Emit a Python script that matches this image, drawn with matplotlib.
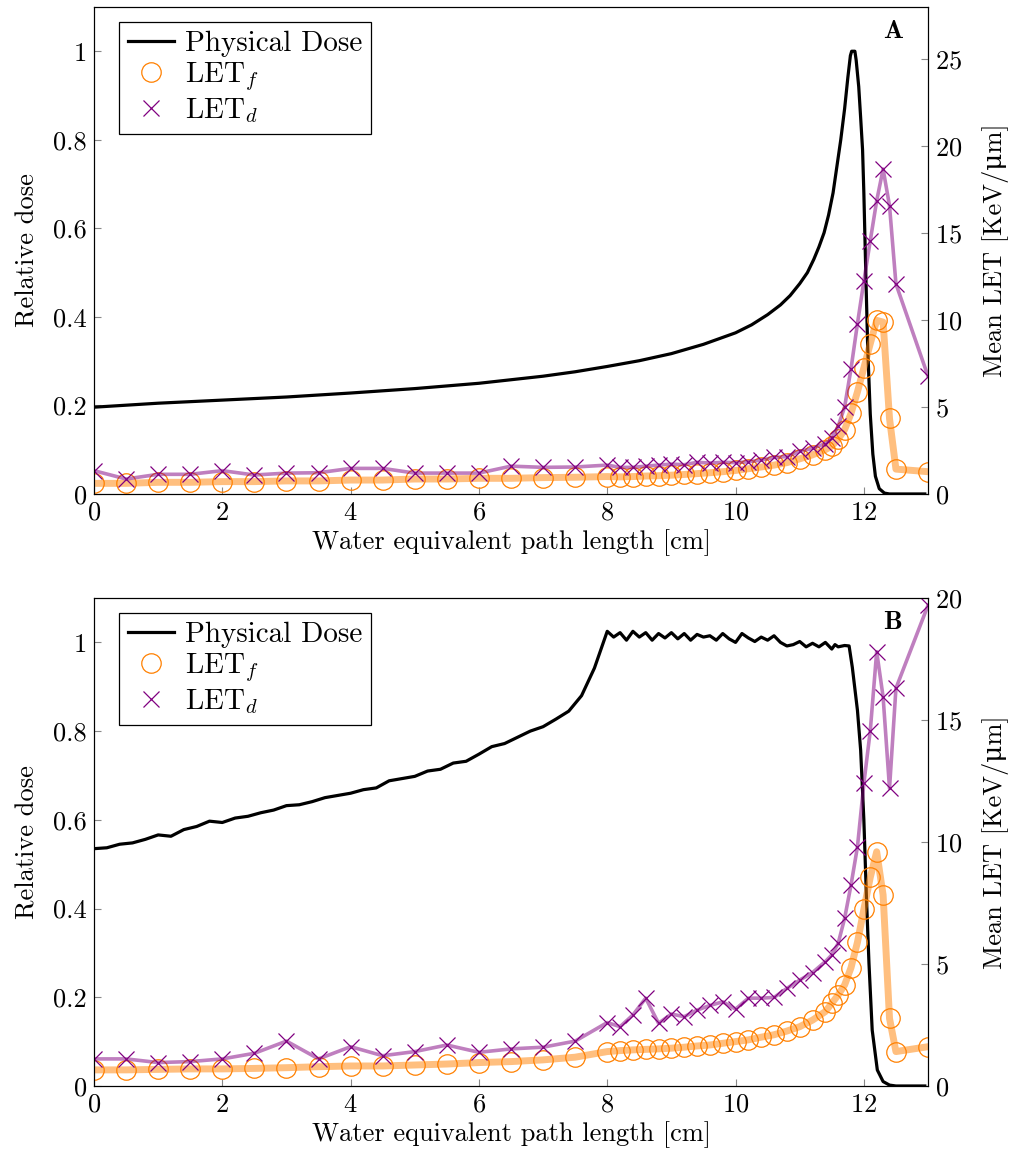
import matplotlib
matplotlib.use("Agg")
import matplotlib.pyplot as plt
from matplotlib.lines import Line2D

plt.rcParams['font.family'] = ['cmr10', 'DejaVu Serif']
plt.rcParams['mathtext.fontset'] = 'cm'
plt.rcParams['axes.formatter.use_mathtext'] = True
plt.rcParams['font.size'] = 19

# LET sample positions (cm)
let_x = [0, 0.5, 1, 1.5, 2, 2.5, 3, 3.5, 4, 4.5, 5, 5.5, 6, 6.5, 7, 7.5, 8.0,
         8.2, 8.4, 8.6, 8.8, 9.0, 9.2, 9.4, 9.6, 9.8, 10.0, 10.2, 10.4, 10.6, 10.8, 11.0, 11.2, 11.4,
         11.5, 11.6, 11.7, 11.8, 11.9, 12.0, 12.1, 12.2, 12.3, 12.4, 12.5, 13.0]

# panel A: Bragg peak
dose_a_x = [0, 1, 2, 3, 4, 5, 6, 6.5, 7, 7.5, 8, 8.5, 9, 9.5, 10, 10.25, 10.5, 10.7, 10.85,
            11.0, 11.12, 11.22, 11.3, 11.38, 11.45, 11.52, 11.58, 11.64, 11.7, 11.75, 11.79,
            11.81, 11.86, 11.88, 11.92, 11.95, 11.98, 12.0, 12.03, 12.06, 12.1, 12.14, 12.18,
            12.24, 12.32, 12.4, 12.95]
dose_a = [0.196, 0.205, 0.212, 0.219, 0.228, 0.238, 0.25, 0.258, 0.266, 0.276, 0.288, 0.301,
          0.317, 0.338, 0.364, 0.382, 0.405, 0.427, 0.448, 0.475, 0.5, 0.53, 0.558, 0.59, 0.63,
          0.68, 0.74, 0.8, 0.87, 0.94, 0.99, 1.0, 1.0, 0.98, 0.92, 0.85, 0.777, 0.68, 0.5, 0.33,
          0.18, 0.09, 0.04, 0.012, 0.002, 0.0, 0.0]
letf_a = [0.61, 0.61, 0.67, 0.67, 0.71, 0.71, 0.75, 0.75, 0.8, 0.8, 0.86, 0.86, 0.9, 0.9, 0.94, 0.96, 1.0,
          0.98, 1.0, 1.03, 1.05, 1.08, 1.12, 1.17, 1.22, 1.28, 1.35, 1.45, 1.55, 1.66, 1.8, 2.02, 2.25, 2.55,
          2.75, 3.15, 3.7, 4.63, 5.87, 7.25, 8.64, 9.98, 9.88, 4.34, 1.43, 1.28]
letd_a = [1.34, 0.86, 1.13, 1.13, 1.34, 1.09, 1.2, 1.22, 1.47, 1.47, 1.2, 1.2, 1.2, 1.6, 1.53, 1.55, 1.66,
          1.53, 1.53, 1.6, 1.66, 1.72, 1.68, 1.82, 1.78, 1.82, 1.8, 1.85, 1.95, 2.1, 2.15, 2.45, 2.62, 2.9,
          3.2, 3.9, 5.0, 7.2, 9.79, 12.23, 14.56, 16.86, 18.68, 16.57, 12.08, 6.77]

# panel B: spread-out Bragg peak
dose_b_x = [0.0, 0.2, 0.4, 0.6, 0.8, 1.0, 1.2, 1.4, 1.6, 1.8, 2.0, 2.2, 2.4, 2.6, 2.8, 3.0,
            3.2, 3.4, 3.6, 3.8, 4.0, 4.2, 4.4, 4.6, 4.8, 5.0, 5.2, 5.4, 5.6, 5.8, 6.0, 6.2,
            6.4, 6.6, 6.8, 7.0, 7.2, 7.4, 7.6, 7.8, 8.0, 8.1, 8.2, 8.3, 8.4, 8.5, 8.6, 8.7,
            8.8, 8.9, 9.0, 9.1, 9.2, 9.3, 9.4, 9.5, 9.6, 9.7, 9.8, 9.9, 10.0, 10.1, 10.2,
            10.3, 10.4, 10.5, 10.6, 10.7, 10.8, 10.9, 11.0, 11.1, 11.2, 11.3, 11.4, 11.5,
            11.55, 11.6, 11.7, 11.77, 11.82, 11.9, 11.95, 12.0, 12.04, 12.08, 12.13, 12.21,
            12.3, 12.4, 12.5, 12.95]
dose_b = [0.535, 0.537, 0.545, 0.548, 0.556, 0.566, 0.563, 0.578, 0.585, 0.597, 0.594, 0.604,
          0.608, 0.616, 0.622, 0.632, 0.634, 0.641, 0.65, 0.655, 0.66, 0.668, 0.672, 0.688,
          0.693, 0.698, 0.71, 0.714, 0.728, 0.732, 0.748, 0.765, 0.772, 0.786, 0.8, 0.81,
          0.827, 0.845, 0.88, 0.942, 1.025, 1.012, 1.022, 1.005, 1.025, 1.012, 1.022, 1.005,
          1.02, 1.01, 1.022, 1.008, 1.02, 1.005, 1.018, 1.012, 1.015, 1.005, 1.02, 1.008,
          1.0, 1.02, 1.01, 1.002, 1.012, 1.005, 1.015, 1.0, 0.992, 0.995, 1.002, 0.99, 0.998,
          0.99, 1.0, 0.985, 0.995, 0.99, 0.993, 0.992, 0.944, 0.847, 0.757, 0.6, 0.426, 0.276,
          0.126, 0.036, 0.01, 0.002, 0.0, 0.0]
letf_b = [0.66, 0.66, 0.68, 0.7, 0.7, 0.72, 0.75, 0.79, 0.82, 0.82, 0.86, 0.9, 0.96, 1.0, 1.07, 1.18, 1.41,
          1.45, 1.48, 1.5, 1.52, 1.55, 1.59, 1.64, 1.68, 1.75, 1.82, 1.89, 2.0, 2.1, 2.25, 2.43, 2.7, 3.05,
          3.39, 3.73, 4.14, 4.85, 5.89, 7.24, 8.55, 9.6, 7.83, 2.77, 1.41, 1.61]
letd_b = [1.11, 1.11, 0.96, 1.0, 1.11, 1.34, 1.84, 1.11, 1.61, 1.24, 1.41, 1.68, 1.38, 1.52, 1.59, 1.84, 2.6,
          2.43, 2.91, 3.6, 2.57, 2.95, 2.84, 3.11, 3.3, 3.45, 3.15, 3.6, 3.6, 3.63, 4.0, 4.34, 4.65, 5.1,
          5.37, 5.85, 6.87, 8.24, 9.8, 12.4, 14.56, 17.8, 15.95, 12.2, 16.3, 19.7]

x_ticks = [0, 2, 4, 6, 8, 10, 12]
dose_ticks = [0, 0.2, 0.4, 0.6, 0.8, 1.0]
dose_labels = ['0', '0.2', '0.4', '0.6', '0.8', '1']

orange = '#ff8000'
purple = '#800080'


def draw_panel(rect, dose_x, dose, letf, letd, let_max, let_ticks, tag):
    ax = fig.add_axes(rect)
    ax.plot(dose_x, dose, color='black', lw=2.3, solid_joinstyle='round')
    ax.set_xlim(0, 13)
    ax.set_ylim(0, 1.1)
    ax.set_xticks(x_ticks)
    ax.set_yticks(dose_ticks)
    ax.set_yticklabels(dose_labels)
    ax.set_xlabel('Water equivalent path length [cm]', labelpad=3)
    ax.set_ylabel('Relative dose', labelpad=10)
    ax.tick_params(direction='in', length=5, color='#888888', top=False, right=False, pad=5)

    ax2 = ax.twinx()
    ax2.plot(let_x, letf, color=orange, lw=5, alpha=0.5, solid_joinstyle='round')
    ax2.plot(let_x, letf, ls='none', marker='o', ms=14, mfc='none', mec=orange, mew=0.9)
    ax2.plot(let_x, letd, color=purple, lw=2.6, alpha=0.5, solid_joinstyle='round')
    ax2.plot(let_x, letd, ls='none', marker='x', ms=11, mec=purple, mew=0.9)
    ax2.set_ylim(0, let_max)
    ax2.set_yticks(let_ticks)
    ax2.set_ylabel('Mean LET [KeV/\u03bcm]', labelpad=14)
    ax2.tick_params(direction='in', length=5, color='#888888', pad=5)

    handles = [Line2D([], [], color='black', lw=2.3),
               Line2D([], [], ls='none', marker='o', ms=14, mfc='none', mec=orange, mew=0.9),
               Line2D([], [], ls='none', marker='x', ms=11, mec=purple, mew=0.9)]
    leg = ax2.legend(handles, ['Physical Dose', 'LET$_f$', 'LET$_d$'], loc='upper left',
                     bbox_to_anchor=(0.03, 0.969), borderaxespad=0, fancybox=False,
                     framealpha=1, edgecolor='black', handlelength=1.6, handletextpad=0.35,
                     labelspacing=0.1, borderpad=0.3, fontsize=21)
    leg.get_frame().set_linewidth(0.9)
    ax2.text(0.958, 0.95, tag, transform=ax2.transAxes, ha='center', va='center',
             family='cmb10', fontsize=19)


fig = plt.figure(figsize=(10.13, 11.59), dpi=100)
draw_panel([0.0928, 0.5738, 0.8233, 0.4202], dose_a_x, dose_a, letf_a, letd_a,
           28, [0, 5, 10, 15, 20, 25], 'A')
draw_panel([0.0928, 0.063, 0.8233, 0.421], dose_b_x, dose_b, letf_b, letd_b,
           20, [0, 5, 10, 15, 20], 'B')
fig.savefig('out.png', dpi=100)
